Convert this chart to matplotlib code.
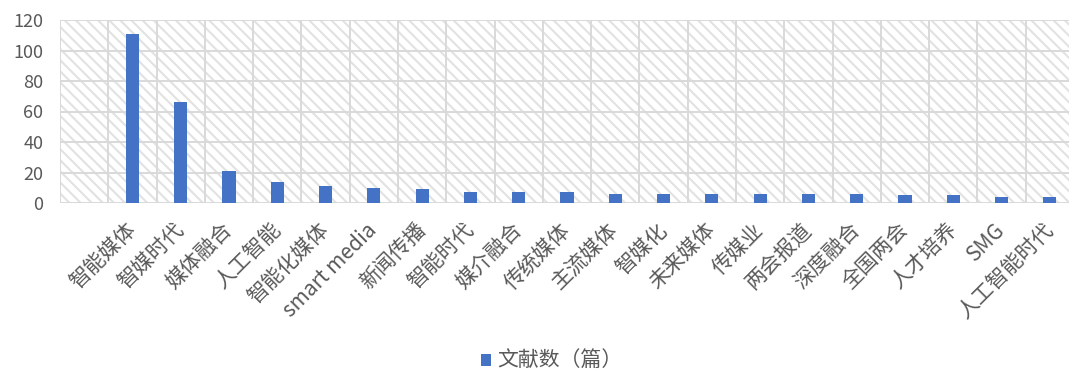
import matplotlib
matplotlib.use("Agg")
import matplotlib.pyplot as plt
from matplotlib.patches import Rectangle
from matplotlib.ticker import FixedLocator

plt.rcParams['font.family'] = ['Noto Sans CJK SC', 'DejaVu Sans']
plt.rcParams['hatch.color'] = '#e2e2e2'
plt.rcParams['hatch.linewidth'] = 1.5

# Keyword frequency data
keywords = ['智能媒体', '智媒时代', '媒体融合', '人工智能', '智能化媒体', 'smart media',
            '新闻传播', '智能时代', '媒介融合', '传统媒体', '主流媒体', '智媒化',
            '未来媒体', '传媒业', '两会报道', '深度融合', '全国两会', '人才培养',
            'SMG', '人工智能时代']
counts = [111, 66, 21, 14, 11, 10, 9, 7, 7, 7, 6, 6, 6, 6, 6, 6, 5, 5, 4, 4]
series_name = '文献数（篇）'
y_ticks = [0, 20, 40, 60, 80, 100, 120]

BAR_COLOR = '#4472C4'
GRID_COLOR = '#d9d9d9'
TEXT_COLOR = '#595959'

fig = plt.figure(figsize=(10.69, 3.73), dpi=100)
ax = fig.add_axes([60 / 1069, 1 - 203 / 373, 1014 / 1069, 183 / 373])

n = len(keywords)
xs = list(range(n))
x_lo, x_hi = -1.5, n - 0.5
ax.set_xlim(x_lo, x_hi)
ax.set_ylim(0, 120)

# Patterned plot-area background
ax.set_facecolor('white')
ax.add_patch(Rectangle((0, 0), 1, 1, transform=ax.transAxes, facecolor='none',
                       edgecolor='#e2e2e2', hatch='\\\\\\', linewidth=0, zorder=0))

# Gridlines: horizontal at value ticks, vertical at category boundaries
for yv in y_ticks:
    ax.axhline(yv, color=GRID_COLOR, linewidth=1.4, zorder=1)
boundaries = [x_lo + k for k in range(n + 2)]
for xb in boundaries:
    ax.axvline(xb, color=GRID_COLOR, linewidth=1.4, zorder=1)

ax.bar(xs, counts, width=0.27, color=BAR_COLOR, zorder=3, label=series_name)

for sp in ax.spines.values():
    sp.set_visible(False)

ax.set_yticks(y_ticks)
ax.tick_params(axis='y', length=0, pad=12, labelsize=13, labelcolor=TEXT_COLOR)
ax.xaxis.set_major_locator(FixedLocator(xs))
ax.set_xticklabels(keywords, rotation=45, ha='right', va='center',
                   rotation_mode='anchor', fontsize=15, color=TEXT_COLOR)
ax.tick_params(axis='x', length=0, pad=17)

handles, labels = ax.get_legend_handles_labels()
fig.legend(handles, labels, loc='center', bbox_to_anchor=(552 / 1069, 1 - 361 / 373),
           frameon=False, fontsize=15, labelcolor=TEXT_COLOR,
           handlelength=0.5, handleheight=0.5, handletextpad=0.3)

fig.savefig('out.png', dpi=100)
